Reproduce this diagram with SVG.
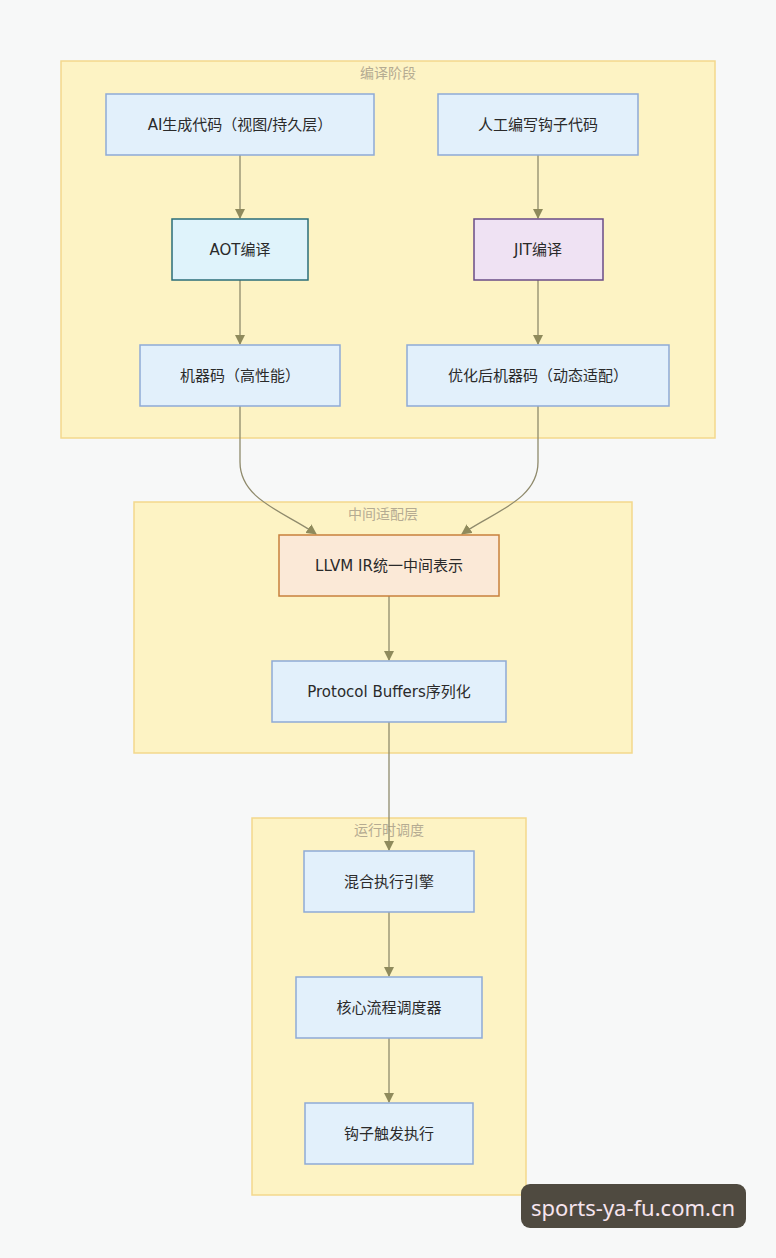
<svg xmlns="http://www.w3.org/2000/svg" width="776" height="1258" viewBox="0 0 776 1258">
<defs>
<style>
.cluster{fill:#fdf3c4;stroke:#f3d88c;stroke-width:1.5}
.ctitle{font-family:"DejaVu Sans","Noto Sans CJK SC",sans-serif;font-size:14px;fill:#b5ab92;text-anchor:middle}
.node{fill:#e2f0fb;stroke:#8eaad6;stroke-width:1.5}
.lbl{font-family:"DejaVu Sans","Noto Sans CJK SC",sans-serif;font-size:15px;fill:#2a2a2a;text-anchor:middle;dominant-baseline:central}
.edge{fill:none;stroke:#8f8a6c;stroke-width:1.3}
</style>
<marker id="arr" viewBox="0 0 10 10" refX="9" refY="5" markerWidth="8" markerHeight="8" orient="auto">
<path d="M0,0 L10,5 L0,10 z" fill="#8f8a5c"/>
</marker>
</defs>
<rect width="776" height="1258" fill="#f7f8f8"/>
<g id="cluster-compile">
<rect class="cluster" x="61" y="61" width="654" height="377"/>
<text class="ctitle" x="388" y="78">编译阶段</text>
</g>
<g id="cluster-middle">
<rect class="cluster" x="134" y="502" width="498" height="251"/>
<text class="ctitle" x="383" y="519">中间适配层</text>
</g>
<g id="cluster-runtime">
<rect class="cluster" x="252" y="818" width="274" height="377"/>
<text class="ctitle" x="389" y="835">运行时调度</text>
</g>
<g id="edges">
<path class="edge" d="M240,155 L240,218" marker-end="url(#arr)"/>
<path class="edge" d="M538,155 L538,218" marker-end="url(#arr)"/>
<path class="edge" d="M240,280 L240,344" marker-end="url(#arr)"/>
<path class="edge" d="M538,280 L538,344" marker-end="url(#arr)"/>
<path class="edge" d="M240,406 L240,462 C240,500 285,512 316,534" marker-end="url(#arr)"/>
<path class="edge" d="M538,406 L538,462 C538,500 493,512 462,534" marker-end="url(#arr)"/>
<path class="edge" d="M389,596 L389,660" marker-end="url(#arr)"/>
<path class="edge" d="M389,722 L389,850" marker-end="url(#arr)"/>
<path class="edge" d="M389,912 L389,976" marker-end="url(#arr)"/>
<path class="edge" d="M389,1038 L389,1102" marker-end="url(#arr)"/>
</g>
<g id="n-ai">
<rect class="node" x="106" y="94" width="268" height="61"/>
<text class="lbl" x="240" y="124.5">AI生成代码（视图/持久层）</text>
</g>
<g id="n-human">
<rect class="node" x="438" y="94" width="200" height="61"/>
<text class="lbl" x="538" y="124.5">人工编写钩子代码</text>
</g>
<g id="n-aot">
<rect x="172" y="219" width="136" height="61" fill="#dff3fb" stroke="#2b6e78" stroke-width="1.5"/>
<text class="lbl" x="240" y="249.5">AOT编译</text>
</g>
<g id="n-jit">
<rect x="474" y="219" width="129" height="61" fill="#efe2f3" stroke="#6a4c86" stroke-width="1.5"/>
<text class="lbl" x="538" y="249.5">JIT编译</text>
</g>
<g id="n-mc">
<rect class="node" x="140" y="345" width="200" height="61"/>
<text class="lbl" x="240" y="375.5">机器码（高性能）</text>
</g>
<g id="n-omc">
<rect class="node" x="407" y="345" width="262" height="61"/>
<text class="lbl" x="538" y="375.5">优化后机器码（动态适配）</text>
</g>
<g id="n-llvm">
<rect x="279" y="535" width="220" height="61" fill="#fbe9d7" stroke="#c8803c" stroke-width="1.5"/>
<text class="lbl" x="389" y="565.5">LLVM IR统一中间表示</text>
</g>
<g id="n-pb">
<rect class="node" x="272" y="661" width="234" height="61"/>
<text class="lbl" x="389" y="691.5">Protocol Buffers序列化</text>
</g>
<g id="n-engine">
<rect class="node" x="304" y="851" width="170" height="61"/>
<text class="lbl" x="389" y="881.5">混合执行引擎</text>
</g>
<g id="n-sched">
<rect class="node" x="296" y="977" width="186" height="61"/>
<text class="lbl" x="389" y="1007.5">核心流程调度器</text>
</g>
<g id="n-hook">
<rect class="node" x="305" y="1103" width="168" height="61"/>
<text class="lbl" x="389" y="1133.5">钩子触发执行</text>
</g>
<g id="watermark">
<rect x="521" y="1184" width="225" height="44" rx="9" fill="#4f4a40"/>
<text x="633" y="1207" font-family="'Noto Sans',sans-serif" font-size="22" fill="#f6e4ee" text-anchor="middle" dominant-baseline="central">sports-ya-fu.com.cn</text>
</g>
</svg>
